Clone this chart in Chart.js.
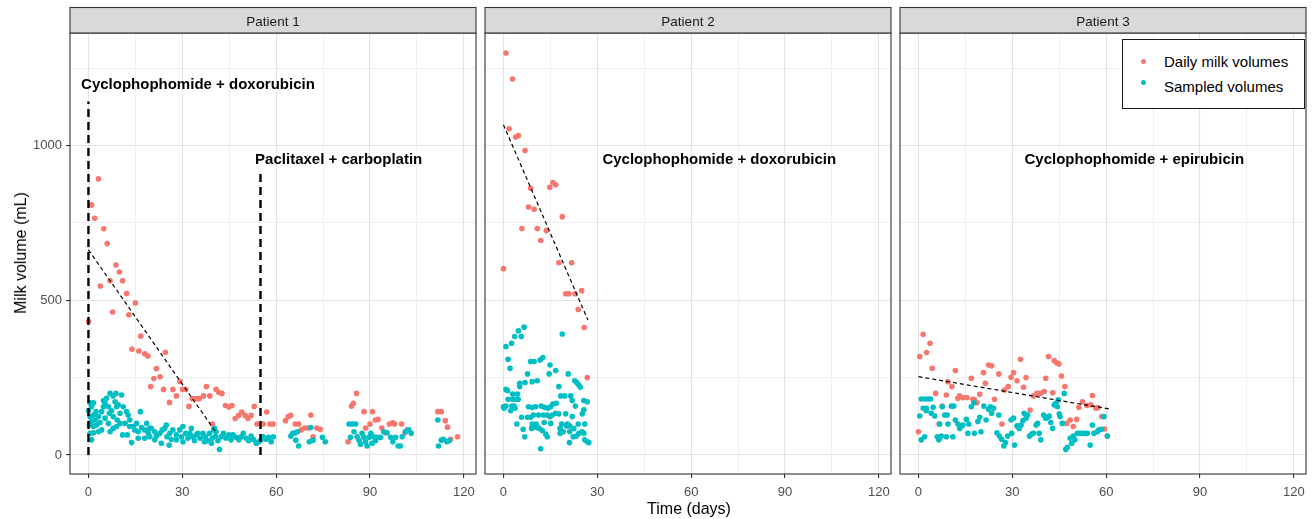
<!DOCTYPE html>
<html>
<head>
<meta charset="utf-8">
<script src="https://cdn.jsdelivr.net/npm/chart.js@4.4.1/dist/chart.umd.min.js"></script>
<style>
  html, body { margin: 0; padding: 0; background: #fff; }
  #wrap { position: relative; width: 1316px; height: 519px; overflow: hidden;
          font-family: "Liberation Sans", Arial, sans-serif; color: #000; }
  canvas.panel { position: absolute; top: 0; }
  .ytitle { position: absolute; left: 21px; top: 253px; white-space: nowrap; font-size: 16px;
            transform: translate(-50%, -50%) rotate(-90deg); }
  .xtitle { position: absolute; left: 689px; top: 509px; white-space: nowrap; font-size: 16px;
            transform: translate(-50%, -50%); }
  .legend { position: absolute; left: 1122px; top: 39px; width: 183px; height: 70px; box-sizing: border-box;
            border: 1px solid #1a1a1a; background: #fff; z-index: 5; }
  .legend .dot { position: absolute; left: 18px; width: 5px; height: 5px; border-radius: 50%; }
  .legend .lab { position: absolute; left: 41px; font-size: 15px; line-height: 18px; white-space: nowrap; }
</style>
</head>
<body>
<div id="wrap">
  <canvas id="p1" class="panel" width="480" height="519" style="left:0px"></canvas>
  <canvas id="p2" class="panel" width="480" height="519" style="left:415px"></canvas>
  <canvas id="p3" class="panel" width="480" height="519" style="left:830px"></canvas>
  <div class="ytitle">Milk volume (mL)</div>
  <div class="xtitle">Time (days)</div>
  <div class="legend">
    <span class="dot" style="top:19px;background:#F8766D"></span>
    <span class="lab" style="top:13px">Daily milk volumes</span>
    <span class="dot" style="top:40px;background:#00BFC4"></span>
    <span class="lab" style="top:38px">Sampled volumes</span>
  </div>
</div>

<script>
// --------------------------------------------------
// Axes
// --------------------------------------------------
const xGrid = [0, 15, 30, 45, 60, 75, 90, 105, 120];
const xLabels = [0, 30, 60, 90, 120];
const yGrid = [0, 250, 500, 750, 1000, 1250];
const yLabels = [0, 500, 1000];
const xRange = [-5.9, 123.9];
const yRange = [-61.4, 1363.4];

// --------------------------------------------------
// Data: [day, mL]
// --------------------------------------------------
const p1Daily = [
  [0,431],[1,808],[2,765],[3.2,892],[3.8,546],[4.9,731],[6,683],[6.9,563],[7.7,462],[8.8,614],
  [9.9,591],[10.9,563],[12.2,522],[12.9,453],[13.9,342],[15,491],[16.1,336],[16.7,384],[18,327],[19,320],
  [19.9,221],[20.9,247],[21.7,279],[22.9,253],[24,212],[24.6,332],[25.9,170],[27,212],[28.1,191],[29.2,238],
  [30.1,212],[31.1,212],[32.1,157],[33.2,182],[34.3,182],[35.4,182],[36.8,191],[37.7,221],[38.8,191],[39.6,100],
  [40.8,212],[41.7,202],[42.7,199],[43.8,160],[44.9,155],[45.9,160],[46.9,118],[48,128],[49,139],[50.1,128],
  [51,118],[52,128],[53,157],[53.9,100],[55.9,100],[57,139],[58,100],[59,100],
  [63,111],[63.9,124],[64.7,128],[66.1,100],[67.2,100],[68,81],[69.1,87],[70.1,87],[71.1,129],[71.8,59],
  [73,87],[74.1,83],
  [83,43],[84.1,158],[84.7,167],[85.7,199],[88.1,140],[88.6,87],[90,100],[90.8,140],[91.7,113],[92.6,115],
  [93.8,87],[95,72],[96.2,100],[97.3,104],[97.9,100],[100.1,100],[101.2,72],[101.9,81],
  [111.7,140],[112.8,140],[114.1,111],[114.8,90],[115.8,51],[118,59]
];
const p1Sampled = [
  [0.5,169],[1.6,169],[1,156],[0,143],[2.4,140],[1.6,129],[0.5,124],[3.2,124],[2.1,113],[1,108],
  [0.3,97],[2.6,97],[1.6,92],[3.7,105],[4.2,140],[4.8,176],[5.3,167],[5.8,183],[4.8,156],[6.4,156],
  [6.7,135],[6.9,199],[7.9,191],[8.8,199],[10.6,194],[8.5,172],[9,156],[9.5,162],[10.1,135],[7.4,143],
  [7.9,124],[9.2,113],[11.1,156],[12.2,140],[12.7,129],[11.7,102],[13.2,113],[10.1,102],[6.4,102],[5.3,119],
  [4.2,81],[1.6,72],[0.5,70],[3.2,75],[1,49],[6.9,75],[7.9,86],[9,92],[10.9,65],[13.8,40],
  [14.3,92],[15.4,102],[16.6,140],[14.8,81],[15.9,75],[17,89],[18,81],[18.6,102],[19.1,70],[20.1,86],
  [19.6,59],[21.2,75],[21.7,61],[22.8,70],[23.6,81],[24.4,86],[24.9,97],[25.1,59],[26,70],[26.5,51],
  [25.8,32],[27,81],[28.1,65],[29.2,81],[29.7,59],[30.2,92],[31.1,70],[31.8,54],[32.4,70],[33.4,59],
  [33.9,46],[34.5,65],[35,70],[35.7,54],[36.6,70],[37.4,59],[38.2,46],[38.7,70],[39.6,54],[40,81],
  [40.6,61],[41.4,46],[41.9,18],[42.4,59],[43.2,70],[44,54],[44.9,65],[45.6,49],[46.2,65],[47.2,57],
  [48.1,49],[48.8,59],[49.5,70],[50.4,54],[51.2,46],[52,61],[52.7,51],[53.6,38],[54.4,43],[55.2,49],
  [55.9,59],[56.8,51],[57.6,57],[58.4,43],[59.1,59],[40.8,75],[40.3,86],[21.2,49],[23.3,38],[18,54],
  [15.9,54],[13.2,92],[19.6,86],[12.4,65],[28.1,49],[32.9,86],[30.2,43],[37.1,43],[39.3,38],
  [64.7,61],[65.3,70],[66.1,72],[66.8,75],[66.3,48],[67.2,29],[70.6,43],[71.1,89],[71.8,48],[74.8,57],
  [75.7,43],
  [83.3,100],[84.4,100],[85.4,100],[84.9,75],[83.8,57],[85.9,59],[86.5,48],[87,35],[87.5,70],[88.1,57],
  [88.6,43],[89.1,29],[89.7,57],[90.3,70],[91.2,59],[90.7,38],[91.8,46],[92.3,57],[93.4,57],[94.4,75],
  [95.5,72],[96.6,57],[97.3,43],[98.2,57],[99,29],[99.7,29],[100.3,59],[101.3,75],[102.4,81],[103.2,70],
  [111.7,113],[111.9,29],[112.8,48],[113.5,51],[114.6,43],[115.3,46]
];

const p2Daily = [
  [0.8,1299],[2.9,1215],[1.8,1054],[3.9,1027],[4.8,1032],[6.9,984],[8.7,862],[8,801],[9.8,794],[14.8,865],
  [15.8,880],[16.7,873],[5.9,732],[10.8,732],[11.9,693],[13.7,725],[18.8,770],[0,602],[17.7,621],[21.8,621],
  [19.9,521],[20.9,521],[22.9,521],[25,531],[23.9,470],[25.8,412],[26.8,250]
];
const p2Sampled = [
  [6.6,413],[4.8,401],[5.7,383],[3.6,383],[2.6,361],[0.8,350],[18.8,391],[1.5,309],[2.1,280],[8.7,302],
  [9.8,302],[11.7,307],[12.6,315],[14.9,291],[16.7,273],[14.6,262],[7.7,262],[20.7,262],[5.2,232],[5.2,221],
  [6.9,234],[9.2,237],[10.8,240],[22.8,240],[23.4,234],[24.1,226],[24.6,219],[17.7,221],[0.8,212],[1.3,208],
  [2.9,197],[4.5,197],[1.5,180],[2.9,180],[3.6,180],[4.7,180],[0,156],[0.2,151],[0.8,158],[2.7,158],
  [3.4,158],[3.7,151],[2.3,143],[8,156],[9.2,154],[10.3,156],[12.1,158],[13.2,154],[14.2,151],[15.1,156],
  [15.8,165],[16.9,167],[18.3,191],[19.6,191],[21.5,191],[22,176],[23,158],[25.7,176],[26.8,172],[25.7,146],
  [25.2,133],[5.8,122],[7.7,122],[8.7,122],[9.6,129],[11.2,129],[12.7,129],[14,129],[14.9,124],[15.6,129],
  [16.7,135],[17.7,133],[19.9,133],[22,124],[4.3,100],[9.2,100],[10.5,100],[13,105],[15.1,102],[18.6,100],
  [20.4,100],[21.2,94],[22.5,86],[23.9,100],[26,100],[6.3,83],[9,86],[10.5,89],[11.4,86],[12.4,79],
  [18.1,86],[18.1,70],[19.1,75],[20.2,94],[21.2,75],[24.1,70],[25.2,75],[25.7,70],[13.5,68],[14,59],
  [6.8,59],[11.9,20],[21.1,40],[22.3,59],[23.3,61],[26,49],[26.8,43],[27.3,40]
];

const p3Daily = [
  [1.5,390],[0.4,318],[2.6,331],[3.7,361],[4.4,280],[0,75],[5.5,199],[7.6,158],[6.6,100],[8.9,194],
  [9.4,237],[10.7,221],[11.8,273],[12.6,183],[13.1,191],[14.2,185],[15.5,186],[16.9,248],[17.4,180],[17.9,178],
  [18.7,169],[19.6,196],[20.8,266],[21.4,232],[22.4,291],[23.4,288],[24.3,180],[25.7,262],[26.7,100],[27.5,210],
  [28.7,221],[29.6,251],[30.4,266],[31.5,240],[32.6,309],[33.6,219],[34.4,250],[35.7,145],[36.8,191],[37.9,199],
  [39.1,199],[40.2,205],[40.7,248],[41.6,318],[42.9,201],[43.4,305],[44.2,298],[44.9,294],[45.7,255],[46.8,221],
  [47.4,102],[48.5,113],[49.5,92],[50.6,115],[51.3,154],[52.4,172],[53.8,160],[55.1,162],[55.6,192],[56.7,151],
  [57.4,153],[58.6,124],[59.5,84],[60.4,61]
];
const p3Sampled = [
  [0.9,181],[2,181],[3.1,181],[3.9,181],[1.5,151],[2.5,151],[0.4,126],[4.7,154],[5.2,126],[4.1,135],
  [2.5,143],[0.9,49],[2,59],[6,59],[6.8,54],[7.3,61],[6.5,49],[8.9,59],[11,59],[6.8,100],
  [8.4,129],[9.2,129],[7.6,156],[10.5,158],[11.3,158],[9.4,100],[11.8,113],[12.6,100],[13.7,92],[13.2,86],
  [14.2,97],[15.3,115],[15.8,70],[16.1,100],[16.9,156],[17.7,169],[17.9,70],[19,108],[19.6,122],[20,75],
  [20.9,158],[21.6,113],[22.4,148],[23,156],[24,151],[23.4,135],[25.7,129],[25.1,72],[25.9,61],[26.6,51],
  [27.3,29],[27.8,40],[28.5,61],[29.8,70],[30.7,32],[29.6,113],[30.4,119],[31.5,94],[32.2,86],[32.8,97],
  [33.4,111],[33.8,135],[34.4,119],[34.9,129],[35.5,61],[36.2,68],[36.8,70],[37.6,97],[38.1,102],[38.6,70],
  [39.1,49],[40,129],[40.7,119],[41.5,122],[41.8,126],[42.3,105],[42.9,86],[43.4,162],[43.9,167],[44.4,156],
  [44.7,178],[45,133],[45.3,124],[46,102],[46.6,199],[47.1,18],[47.6,25],[48.5,54],[49,38],[49.5,61],
  [50,49],[50.8,70],[51.7,70],[52.4,70],[53.1,70],[54,70],[54.9,32],[55.6,97],[56.1,70],[57.2,75],
  [57.7,81],[58.5,83],[59.3,124],[60.4,61]
];

// chemotherapy start lines (patient 1) and fitted trends
const p1ChemoDay = [0, 55];
const p1ChemoTop = [1142, 912];
const p1Trend = [[0,663],[41,70]];
const p2Trend = [[0,1067],[27,436]];
const p3Trend = [[0,253],[61,149]];

// panel text
const panelTitles = ["Patient 1", "Patient 2", "Patient 3"];
const p1Notes = ["Cyclophophomide + doxorubicin", "Paclitaxel + carboplatin"];
const p1NoteX = [35, 80];
const p1NoteY = [1195, 955];
const p2Notes = ["Cyclophophomide + doxorubicin"];
const p2NoteX = [69];
const p2NoteY = [955];
const p3Notes = ["Cyclophophomide + epirubicin"];
const p3NoteX = [69];
const p3NoteY = [955];

const FONT = '"Liberation Sans", Arial, sans-serif';
const RED = "#F8766D";
const TEAL = "#00BFC4";

// --------------------------------------------------
// Strip, frame and notes drawn round each facet
// --------------------------------------------------
const facetPlugin = {
  id: "facet",
  afterDraw(chart, args, opts) {
    const { ctx, chartArea: a, scales } = chart;
    ctx.save();

    ctx.font = "bold 15px " + FONT;
    ctx.fillStyle = "#000";
    ctx.textAlign = "center";
    ctx.textBaseline = "middle";
    opts.notes.forEach((t, i) => {
      ctx.fillText(t, scales.x.getPixelForValue(opts.noteX[i]), scales.y.getPixelForValue(opts.noteY[i]));
    });

    ctx.strokeStyle = "#333333";
    ctx.lineWidth = 1.1;
    ctx.strokeRect(a.left, a.top, a.right - a.left, a.bottom - a.top);

    ctx.fillStyle = "#d9d9d9";
    ctx.fillRect(a.left, 7.5, a.right - a.left, a.top - 7.5);
    ctx.strokeRect(a.left, 7.5, a.right - a.left, a.top - 7.5);

    ctx.fillStyle = "#1a1a1a";
    ctx.font = "13.5px " + FONT;
    ctx.textBaseline = "alphabetic";
    ctx.fillText(opts.title, (a.left + a.right) / 2, 25.5);
    ctx.restore();
  }
};

function toPoints(rows) {
  return rows.map(([x, y]) => ({ x, y }));
}

function buildDatasets(daily, sampled, trend, vDays, vTops) {
  const ds = [];
  (vDays || []).forEach((d, i) => {
    ds.push({
      data: [{ x: d, y: 0 }, { x: d, y: vTops[i] }],
      showLine: true, borderColor: "#000", borderWidth: 2.4, borderDash: [8, 5],
      pointRadius: 0, order: 0
    });
  });
  ds.push({
    data: toPoints(trend),
    showLine: true, borderColor: "#000", borderWidth: 1.2, borderDash: [4, 3],
    pointRadius: 0, order: 0
  });
  ds.push({
    data: toPoints(sampled),
    backgroundColor: TEAL, pointRadius: 2.8, pointBorderWidth: 0, order: 1
  });
  ds.push({
    data: toPoints(daily),
    backgroundColor: RED, pointRadius: 2.8, pointBorderWidth: 0, order: 2
  });
  return ds;
}

function buildPanel(id, title, datasets, notes, noteX, noteY, showY) {
  const isMajorX = (c) => c.tick && xLabels.includes(c.tick.value);
  const isMajorY = (c) => c.tick && yLabels.includes(c.tick.value);

  new Chart(document.getElementById(id), {
    type: "scatter",
    data: { datasets },
    options: {
      responsive: false,
      animation: false,
      events: [],
      layout: { padding: { top: 33, right: 2, bottom: 0, left: 0 } },
      plugins: {
        legend: { display: false },
        tooltip: { enabled: false },
        facet: { title, notes, noteX, noteY }
      },
      scales: {
        x: {
          type: "linear",
          min: xRange[0],
          max: xRange[1],
          afterBuildTicks: (axis) => { axis.ticks = xGrid.map((v) => ({ value: v })); },
          afterFit: (s) => { s.height = 45; s.paddingLeft = 0; s.paddingRight = 0; },
          ticks: {
            autoSkip: false,
            maxRotation: 0,
            padding: 7,
            color: "#4d4d4d",
            font: { family: FONT, size: 13 },
            callback: (v) => (xLabels.includes(v) ? String(v) : "")
          },
          grid: {
            color: (c) => (isMajorX(c) ? "#e3e3e3" : "#ececec"),
            lineWidth: (c) => (isMajorX(c) ? 1.1 : 0.8),
            tickColor: (c) => (isMajorX(c) ? "#333333" : "rgba(0,0,0,0)"),
            tickLength: 4,
            tickWidth: 1.1
          },
          border: { display: false }
        },
        y: {
          type: "linear",
          min: yRange[0],
          max: yRange[1],
          afterBuildTicks: (axis) => { axis.ticks = yGrid.map((v) => ({ value: v })); },
          afterFit: (s) => { s.width = 70; s.paddingTop = 0; s.paddingBottom = 0; },
          ticks: {
            display: showY,
            autoSkip: false,
            padding: 4,
            color: "#4d4d4d",
            font: { family: FONT, size: 13 },
            callback: (v) => (yLabels.includes(v) ? String(v) : "")
          },
          grid: {
            color: (c) => (isMajorY(c) ? "#e3e3e3" : "#ececec"),
            lineWidth: (c) => (isMajorY(c) ? 1.1 : 0.8),
            tickColor: (c) => (showY && isMajorY(c) ? "#333333" : "rgba(0,0,0,0)"),
            tickLength: 4,
            tickWidth: 1.1
          },
          border: { display: false }
        }
      }
    },
    plugins: [facetPlugin]
  });
}

buildPanel("p1", panelTitles[0],
  buildDatasets(p1Daily, p1Sampled, p1Trend, p1ChemoDay, p1ChemoTop),
  p1Notes, p1NoteX, p1NoteY, true);
buildPanel("p2", panelTitles[1],
  buildDatasets(p2Daily, p2Sampled, p2Trend),
  p2Notes, p2NoteX, p2NoteY, false);
buildPanel("p3", panelTitles[2],
  buildDatasets(p3Daily, p3Sampled, p3Trend),
  p3Notes, p3NoteX, p3NoteY, false);
</script>
</body>
</html>
